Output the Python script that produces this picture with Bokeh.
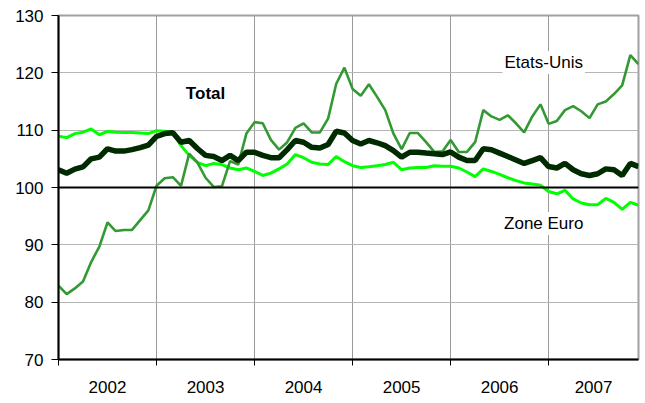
from bokeh.plotting import figure
from bokeh.models import FixedTicker, Span, Label, ColumnDataSource
from bokeh.embed import file_html
from bokeh.resources import INLINE

# Monthly index, Jan 2002 (0) .. Dec 2007 (71)
months = list(range(72))

etats_unis = [82.9, 81.4, 82.4, 83.6, 87.0, 89.7, 93.9, 92.4, 92.6, 92.6, 94.3, 96.0,
              100.3, 101.6, 101.8, 100.3, 105.9, 104.4, 101.7, 100.1, 100.2, 104.6, 104.0, 109.4,
              111.4, 111.2, 108.3, 106.6, 107.9, 110.4, 111.2, 109.6, 109.6, 112.0, 118.1, 120.9,
              117.2, 116.0, 118.0, 115.8, 113.5, 109.4, 106.7, 109.5, 109.5, 107.9, 106.2, 106.3,
              108.3, 106.2, 106.2, 107.9, 113.5, 112.4, 111.8, 112.6, 111.2, 109.6, 112.4, 114.5,
              111.1, 111.6, 113.5, 114.2, 113.3, 112.1, 114.5, 115.0, 116.3, 117.8, 123.1, 121.5]

zone_euro = [108.95, 108.7, 109.4, 109.65, 110.2, 109.2, 109.8, 109.65, 109.6, 109.6, 109.5, 109.4,
             109.9, 109.8, 109.65, 107.3, 105.6, 104.4, 103.8, 104.2, 104.0, 103.4, 103.1, 103.4,
             102.8, 102.1, 102.5, 103.25, 104.1, 105.75, 105.2, 104.4, 104.1, 104.0, 105.4, 104.5,
             103.8, 103.5, 103.6, 103.8, 104.0, 104.4, 103.1, 103.4, 103.5, 103.5, 103.8, 103.7,
             103.7, 103.4, 102.7, 101.9, 103.25, 102.8, 102.3, 101.7, 101.2, 100.8, 100.6, 100.4,
             99.3, 98.9, 99.5, 98.0, 97.3, 97.0, 97.0, 98.1, 97.4, 96.2, 97.4, 96.9]

total = [103.1, 102.5, 103.2, 103.6, 105.0, 105.3, 106.75, 106.35, 106.35, 106.6, 106.95, 107.4,
         108.9, 109.4, 109.55, 107.9, 108.2, 106.8, 105.6, 105.4, 104.7, 105.6, 104.7, 106.15,
         106.15, 105.6, 105.2, 105.2, 106.6, 108.2, 107.9, 107.0, 106.9, 107.5, 109.8, 109.5,
         108.2, 107.6, 108.2, 107.8, 107.3, 106.45, 105.3, 106.15, 106.15, 106.0, 105.9, 105.75,
         106.2, 105.3, 104.7, 104.7, 106.75, 106.6, 106.0, 105.4, 104.8, 104.2, 104.7, 105.2,
         103.65, 103.4, 104.2, 103.1, 102.4, 102.1, 102.4, 103.25, 103.1, 102.1, 104.2, 103.65]

year_labels = ["2002", "2003", "2004", "2005", "2006", "2007"]
year_starts = [0, 12, 24, 36, 48, 60]
year_centers = [6, 18, 30, 42, 54, 65.5]
y_ticks = [70, 80, 90, 100, 110, 120, 130]

FONT = "Liberation Sans"

src = ColumnDataSource(dict(m=months, us=etats_unis, ze=zone_euro, tot=total))

p = figure(width=644, height=400, x_range=(0, 71), y_range=(70, 130),
           output_backend="svg", toolbar_location=None)
p.min_border_left = 58
p.min_border_right = 6
p.min_border_top = 15
p.min_border_bottom = 41
p.background_fill_color = "white"
p.border_fill_color = "white"
p.outline_line_color = "#a0a0a0"
p.outline_line_width = 2

# grids
p.xgrid.ticker = FixedTicker(ticks=year_starts)
p.xgrid.grid_line_color = "#9a9a9a"
p.xgrid.grid_line_width = 1
p.ygrid.ticker = FixedTicker(ticks=y_ticks)
p.ygrid.grid_line_color = "#b5b5b5"
p.ygrid.grid_line_width = 1

# x axis
xa = p.xaxis[0]
xa.ticker = FixedTicker(ticks=year_centers, minor_ticks=year_starts)
xa.major_label_overrides = {c: l for c, l in zip(year_centers, year_labels)}
xa.major_tick_out = 0
xa.major_tick_in = 0
xa.minor_tick_out = 6
xa.minor_tick_in = 0
xa.minor_tick_line_color = "black"
xa.minor_tick_line_width = 1
xa.axis_line_color = "black"
xa.axis_line_width = 2
xa.major_label_text_font = FONT
xa.major_label_text_font_size = "17px"
xa.major_label_text_color = "black"
xa.major_label_standoff = 15

# y axis
ya = p.yaxis[0]
ya.ticker = FixedTicker(ticks=y_ticks)
ya.major_tick_out = 7
ya.major_tick_in = 0
ya.minor_tick_out = 0
ya.minor_tick_in = 0
ya.major_tick_line_color = "black"
ya.axis_line_color = "black"
ya.axis_line_width = 2
ya.major_label_text_font = FONT
ya.major_label_text_font_size = "17px"
ya.major_label_text_color = "black"
ya.major_label_standoff = 8

# reference line at 100
p.add_layout(Span(location=100, dimension="width", line_color="black", line_width=2))

p.line("m", "ze", source=src, line_color="#00ff00", line_width=3)
p.line("m", "us", source=src, line_color="#339933", line_width=2.6)
p.line("m", "tot", source=src, line_color="#002a00", line_width=5.5)

p.add_layout(Label(x=59.4, y=121.8, text="Etats-Unis", text_font=FONT, text_font_size="17px",
                   text_align="center", text_baseline="middle", text_color="black",
                   background_fill_color="white", padding=2))
p.add_layout(Label(x=59.4, y=93.7, text="Zone Euro", text_font=FONT, text_font_size="17px",
                   text_align="center", text_baseline="middle", text_color="black",
                   background_fill_color="white", padding=2))
p.add_layout(Label(x=18, y=116.4, text="Total", text_font=FONT, text_font_size="17px",
                   text_font_style="bold", text_align="center", text_baseline="middle",
                   text_color="black"))

open("out.html", "w").write(file_html(p, INLINE))
